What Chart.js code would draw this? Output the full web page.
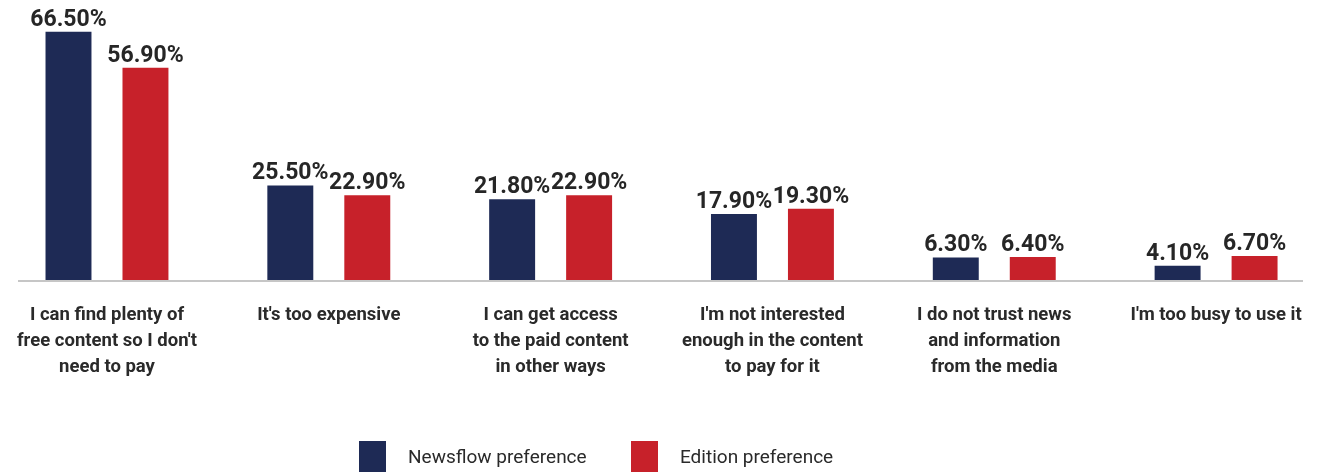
<!DOCTYPE html>
<html>
<head>
<meta charset="utf-8">
<script src="https://cdn.jsdelivr.net/npm/chart.js@4.4.1/dist/chart.umd.min.js"></script>
<style>
  html, body { margin: 0; padding: 0; background: #fff; overflow: hidden; }
  #wrap { position: absolute; left: -4px; top: 0; width: 1331px; height: 472px; }
  .legend { position: absolute; top: 441px; height: 31px; font-family: Roboto, sans-serif; font-size: 19px; color: #2a2a2a; }
  .legend .box { position: absolute; top: 0; width: 27px; height: 31px; }
  .legend .txt { position: absolute; top: 0; line-height: 31px; white-space: nowrap; }
</style>
</head>
<body>
<div id="wrap"><canvas id="prefChart"></canvas></div>
<div class="legend" style="left:359px">
  <div class="box" style="left:0;background:#1e2a55"></div>
  <div class="txt" style="left:49px">Newsflow preference</div>
</div>
<div class="legend" style="left:631px">
  <div class="box" style="left:0;background:#c7212a"></div>
  <div class="txt" style="left:49px">Edition preference</div>
</div>
<script>
const categories = [
  ['I can find plenty of', "free content so I don't", 'need to pay'],
  ["It's too expensive"],
  ['I can get access', 'to the paid content', 'in other ways'],
  ["I'm not interested", 'enough in the content', 'to pay for it'],
  ['I do not trust news', 'and information', 'from the media'],
  ["I'm too busy to use it"]
];
const newsflowValues = [66.5, 25.5, 21.8, 17.9, 6.3, 4.1];
const editionValues = [56.9, 22.9, 22.9, 19.3, 6.4, 6.7];
const seriesNames = ['Newsflow preference', 'Edition preference'];

// value labels above bars + grey baseline
const barLabels = {
  id: 'barLabels',
  afterDatasetsDraw(chart) {
    const ctx = chart.ctx;
    const area = chart.chartArea;
    ctx.save();
    ctx.strokeStyle = '#c6c6c6';
    ctx.lineWidth = 2;
    ctx.beginPath();
    ctx.moveTo(22, area.bottom);
    ctx.lineTo(1307, area.bottom);
    ctx.stroke();

    ctx.font = 'bold 23px Roboto, sans-serif';
    ctx.fillStyle = '#262626';
    ctx.textAlign = 'center';
    ctx.textBaseline = 'alphabetic';
    chart.data.datasets.forEach((ds, i) => {
      chart.getDatasetMeta(i).data.forEach((bar, j) => {
        ctx.fillText(ds.data[j].toFixed(2) + '%', bar.x, bar.y - 6);
      });
    });
    ctx.restore();
  }
};

new Chart(document.getElementById('prefChart'), {
  type: 'bar',
  data: {
    labels: categories,
    datasets: [{
      label: seriesNames[0],
      data: newsflowValues,
      backgroundColor: '#1e2a55',
      categoryPercentage: 0.694,
      barPercentage: 0.597
    }, {
      label: seriesNames[1],
      data: editionValues,
      backgroundColor: '#c7212a',
      categoryPercentage: 0.694,
      barPercentage: 0.597
    }]
  },
  options: {
    responsive: true,
    maintainAspectRatio: false,
    animation: false,
    layout: { padding: 0 },
    plugins: {
      legend: { display: false },
      tooltip: { enabled: false }
    },
    scales: {
      x: {
        grid: { display: false, drawTicks: false },
        border: { display: false },
        ticks: {
          color: '#2a2a2a',
          font: { family: 'Roboto, sans-serif', size: 18.5, weight: 'bold', lineHeight: 1.41 },
          padding: 21,
          maxRotation: 0,
          autoSkip: false
        },
        afterFit(scale) { scale.height = 191; }
      },
      y: {
        display: false,
        min: 0,
        max: 75
      }
    }
  },
  plugins: [barLabels]
});
</script>
</body>
</html>
